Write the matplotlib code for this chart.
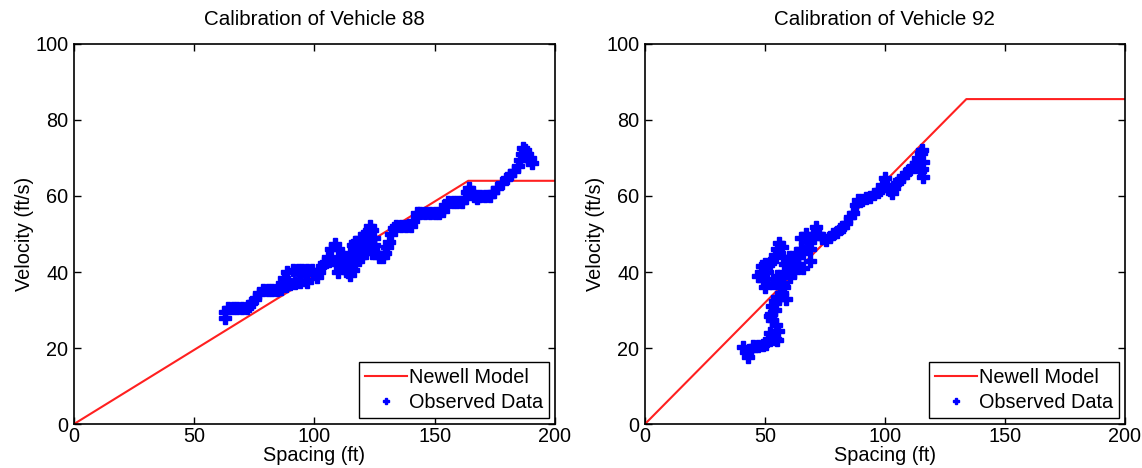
import numpy as np
import matplotlib.pyplot as plt

plt.rcParams['font.family'] = ['Liberation Sans', 'DejaVu Sans']

# Newell model breakpoints (spacing ft, velocity ft/s)
newell88_x = [0, 164, 200]
newell88_y = [0, 64, 64]
newell92_x = [0, 134, 200]
newell92_y = [0, 85.5, 85.5]

obs88_x = [62.8, 63, 64, 66, 68, 70, 72, 73, 74, 75.5, 77, 78.5, 80.5, 82.5, 84.5, 86,
           88, 90, 92, 94, 96, 97, 86.5, 87.5, 88.8, 91, 93, 95, 97, 99,
           100, 101, 102, 103, 104, 105.5, 107, 108.5, 110, 111, 112, 113, 114, 115,
           116, 116, 115, 116, 117, 118, 119, 120, 121, 122, 123, 124, 125,
           118, 120, 122, 124, 121, 119, 117, 125, 126, 127, 128.5, 129.5, 130, 131,
           132, 133, 134, 136, 138, 140, 141, 142.6, 144, 146, 148, 150, 152, 153.4,
           154.5, 155.5, 157.5, 159.5, 161.5, 162.5, 163.5, 164.5, 165.5, 166.5,
           167.5, 169, 171, 173, 174.5, 176, 178, 180, 181.5, 183, 184.5, 185.5,
           186.2, 186.8, 187.7, 188.5, 189.5, 190.4, 189,
           106, 109, 112, 114, 117, 119, 121, 123, 110, 113]
obs88_y = [28, 29.5, 30.5, 30.5, 30.5, 30.5, 30.5, 31, 32, 33, 34.5, 35.3, 35.3, 35.3, 35.3, 35.5,
           36.2, 36.8, 37.2, 37.5, 37.9, 37.5, 37, 38.5, 40, 40.5, 40.5, 40.5, 40.5, 40.5,
           39.5, 38.7, 40, 41.5, 42.5, 44, 46, 47.5, 46, 44, 42.5, 41, 40, 39.2,
           40.5, 42.5, 45, 47, 48, 47, 49, 48, 50, 50.5, 52, 51, 49,
           45, 44, 46, 45, 47, 46, 44, 47, 45, 44, 44, 45, 46.6, 48,
           50, 51.5, 52, 52, 52, 52, 53.5, 55.5, 55.5, 55.5, 55.5, 55.5, 55.5, 56,
           57.5, 58.4, 58.4, 58.4, 58.4, 59.5, 61, 62, 61, 60,
           59.5, 60, 60, 60, 61, 62, 63.5, 64.7, 65.5, 66.5, 68, 69.5,
           71, 72.6, 72, 71, 70, 68.7, 69.5,
           43, 42, 44, 43, 42, 44, 46, 48, 40, 42]

obs92_x = [41, 42, 43, 44, 45, 47, 49, 50.5, 51.5, 52, 53, 54, 55,
           55.5, 54.5, 53, 52, 52.5, 53, 54, 55, 56, 57, 56.5, 57.5, 56, 55,
           49, 48.5, 48.6, 50, 52, 53, 54, 55, 56, 57, 57.5, 58.5, 59.5, 60.4,
           61, 62, 63, 64, 65, 66, 67.5, 68.8, 69, 70, 71.5, 72.5, 74, 75.5, 77,
           78.5, 80, 81.5, 82.5, 84, 85.5, 86.7, 88, 88.8, 90.5, 92, 93.8, 95.5,
           97, 98, 99, 100, 101, 102, 103, 104, 105, 106, 107.5, 109, 110, 111.5,
           113, 114, 115, 115.5, 116, 115.5, 116, 114.5,
           62, 64, 66, 60, 58, 65, 67, 69, 51, 47, 50, 58, 59, 54, 53]
obs92_y = [20.3, 19, 17.6, 19.5, 20.5, 20.5, 20.8, 21, 22.5, 24, 23.5, 22.5, 22,
           24.5, 26, 27.5, 28.5, 29, 31, 32.5, 33.5, 33, 34.5, 36, 37, 38, 39,
           38, 40, 41.5, 42, 42.4, 43, 44.5, 46, 47.6, 46.5, 44, 42, 40, 38.7,
           41, 43, 45, 44, 46, 45, 46.6, 43, 48, 50, 51.8, 50, 49, 48.5, 49.2,
           50, 50.5, 51.3, 51.8, 53, 54.5, 55.5, 57.5, 59, 59, 59.5, 59.7, 60.5,
           61, 61.6, 63, 64.7, 63, 61.5, 60.8, 62, 63.5, 64.2, 65, 66, 66.8, 67.5,
           68.7, 70, 71.3, 72, 69, 67, 65, 66.5,
           40, 42, 41, 44, 40, 49, 50, 46, 40, 39, 36, 36, 33, 30, 37]

panels = [
    ('Calibration of Vehicle 88', newell88_x, newell88_y, obs88_x, obs88_y),
    ('Calibration of Vehicle 92', newell92_x, newell92_y, obs92_x, obs92_y),
]
axes_pos = [[0.0648, 0.094, 0.421, 0.812], [0.5648, 0.094, 0.420, 0.812]]
fs = 14.3

fig = plt.figure(figsize=(11.42, 4.68), dpi=100)

for pos, (title, nx, ny, ox, oy) in zip(axes_pos, panels):
    ax = fig.add_axes(pos)
    ax.plot(nx, ny, color='#ff2020', lw=1.5, label='Newell Model')
    ax.plot(ox, oy, ls='none', marker='P', ms=8.5, color='#0000ff', mec='#0000ff',
            label='Observed Data')
    ax.set_xlim(0, 200); ax.set_ylim(0, 100)
    ax.set_xticks([0, 50, 100, 150, 200]); ax.set_yticks([0, 20, 40, 60, 80, 100])
    ax.tick_params(direction='in', top=True, right=True, labelsize=fs, length=5, width=1)
    ax.tick_params(axis='x', pad=2)
    ax.tick_params(axis='y', pad=4)
    for s in ax.spines.values():
        s.set_linewidth(1.2)
    ax.set_title(title, fontsize=fs + 0.5, pad=14)
    ax.set_xlabel('Spacing (ft)', fontsize=fs, labelpad=0)
    ax.set_ylabel('Velocity (ft/s)', fontsize=fs, labelpad=1)
    leg = ax.legend(loc='lower right', fontsize=fs, fancybox=False, framealpha=1,
                    edgecolor='black', borderpad=0.3, handlelength=2.1, handletextpad=0.1,
                    labelspacing=0.3, borderaxespad=0.3, markerscale=0.5)
    leg.get_frame().set_linewidth(1.0)

fig.savefig('out.png', dpi=100)
